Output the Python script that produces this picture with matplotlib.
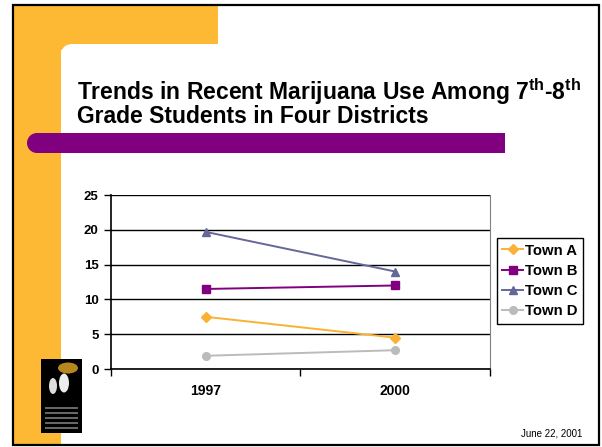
import matplotlib
matplotlib.use('Agg')
import matplotlib.pyplot as plt
from matplotlib.patches import Rectangle, Circle, FancyBboxPatch, Ellipse

plt.rcParams['font.family'] = ['Liberation Sans', 'DejaVu Sans']
plt.rcParams['mathtext.fontset'] = 'custom'
plt.rcParams['mathtext.rm'] = 'Liberation Sans'
plt.rcParams['mathtext.bf'] = 'Liberation Sans:bold'

# data
years = ['1997', '2000']
town_a = [7.5, 4.5]
town_b = [11.5, 12.0]
town_c = [19.7, 14.0]
town_d = [1.9, 2.7]
series_names = ['Town A', 'Town B', 'Town C', 'Town D']
y_ticks = [0, 5, 10, 15, 20, 25]

W, H = 602, 447
fig = plt.figure(figsize=(W / 100, H / 100), dpi=100, facecolor='white')

# slide background drawn in pixel coords
bg = fig.add_axes([0, 0, 1, 1])
bg.set_xlim(0, W)
bg.set_ylim(H, 0)
bg.axis('off')

orange = '#FDB933'
purple = '#800080'
bg.add_patch(Rectangle((13, 4), 205, 46, color=orange, lw=0))
bg.add_patch(Rectangle((13, 4), 48, 442, color=orange, lw=0))
bg.add_patch(FancyBboxPatch((61, 44), 700, 500, boxstyle='round,pad=0,rounding_size=12',
                            fc='white', ec='none'))
# purple bar under the title
bg.add_patch(Rectangle((37, 133), 468, 20, color=purple, lw=0))
bg.add_patch(Circle((37, 143), 10, color=purple, lw=0))
# slide border
bg.add_patch(Rectangle((13, 5), 586, 440, fill=False, ec='black', lw=1.6))

# logo (rough)
bg.add_patch(Rectangle((41, 359), 41, 74, color='black', lw=0))
bg.add_patch(Ellipse((68, 368), 20, 11, color='#B8861E', lw=0))
bg.add_patch(Ellipse((53, 386), 8, 16, color='#DDDDDD', lw=0))
bg.add_patch(Ellipse((64, 383), 10, 19, color='#EEEEEE', lw=0))
for yy in [407, 412, 417, 422, 427]:
    bg.add_patch(Rectangle((45, yy), 33, 1.5, color='#666666', lw=0))

title1 = r'Trends in Recent Marijuana Use Among 7$^{\mathbf{th}}$-8$^{\mathbf{th}}$'
title2 = 'Grade Students in Four Districts'
bg.text(77, 100, title1, fontsize=16.5, fontweight='bold', va='baseline', ha='left')
bg.text(77, 123, title2, fontsize=16.5, fontweight='bold', va='baseline', ha='left')

bg.text(582, 436, 'June 22, 2001', fontsize=7, ha='right', va='baseline')

# chart
ax = fig.add_axes([111 / W, (H - 369) / H, 379 / W, 174 / H])
x_pos = [i + 0.5 for i in range(len(years))]
styles = [
    (town_a, '#F9B233', 'D', 5),
    (town_b, purple, 's', 5.5),
    (town_c, '#666699', '^', 6),
    (town_d, '#BBBBBB', 'o', 5.5),
]
for (vals, col, mk, ms), name in zip(styles, series_names):
    ax.plot(x_pos, vals, color=col, marker=mk, markersize=ms, lw=1.4, label=name)

ax.set_xlim(0, len(years))
ax.set_ylim(0, 25)
ax.set_yticks(y_ticks)
ax.set_yticklabels([str(t) for t in y_ticks], fontsize=9.5, fontweight='bold')
ax.yaxis.grid(True, color='black', lw=1)
ax.set_axisbelow(True)
ax.tick_params(axis='y', length=5, width=1, pad=4, direction='out')

ax.set_xticks(range(len(years) + 1))
ax.set_xticklabels([])
ax.set_xticks(x_pos, minor=True)
ax.set_xticklabels(years, minor=True, fontsize=10, fontweight='bold')
ax.tick_params(axis='x', which='major', length=5, width=1, direction='out')
ax.tick_params(axis='x', which='minor', length=0, pad=11)

ax.spines['top'].set_visible(False)
ax.spines['right'].set_color('#808080')
ax.spines['left'].set_linewidth(1.2)
ax.spines['bottom'].set_linewidth(1.2)

leg = ax.legend(loc='center left', bbox_to_anchor=(497 / W, 1 - 281 / H),
                bbox_transform=fig.transFigure, frameon=True, fancybox=False,
                edgecolor='black', framealpha=1, handlelength=1.4, handletextpad=0.15,
                borderpad=0.35, labelspacing=0.42, borderaxespad=0,
                prop={'family': 'Liberation Sans', 'weight': 'bold', 'size': 10.7})
leg.get_frame().set_linewidth(1)

fig.savefig('out.png', dpi=100)
